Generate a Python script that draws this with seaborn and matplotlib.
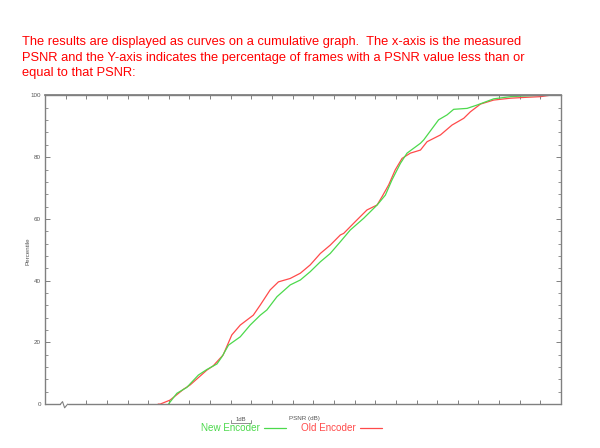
import matplotlib
matplotlib.use("Agg")
import matplotlib.pyplot as plt
import seaborn as sns
import pandas as pd
import numpy as np

# PSNR (dB, relative axis units) and cumulative percentile
old_psnr = [5.48, 5.58, 6.06, 6.71, 7.03, 7.84, 8.15, 8.63, 9.05, 9.46, 10.09, 10.43,
            10.91, 11.31, 11.88, 12.37, 12.85, 13.34, 13.82, 14.31, 14.47, 15.03, 15.60,
            16.09, 16.33, 16.65, 16.97, 17.30, 17.70, 18.19, 18.51, 19.16, 19.72, 20.29,
            20.61, 21.10, 21.74, 22.55, 23.36, 24.01, 24.41]
old_pct = [0, 0, 1.3, 4.8, 6.2, 11.0, 12.4, 15.9, 22.4, 25.6, 28.8, 32.1,
           37.0, 39.6, 40.7, 42.4, 45.1, 48.8, 51.5, 54.8, 55.3, 59.1, 62.9,
           64.5, 67.2, 71.0, 75.9, 79.6, 81.3, 82.3, 85.0, 87.2, 90.4, 92.6,
           94.7, 97.2, 98.5, 99.1, 99.4, 99.6, 100]
new_psnr = [5.98, 6.39, 6.87, 7.43, 7.84, 8.33, 8.57, 8.89, 9.46, 9.94, 10.43, 10.75,
            11.24, 11.88, 12.37, 12.85, 13.34, 13.82, 14.31, 14.79, 15.44, 16.09, 16.49,
            16.81, 17.22, 17.54, 18.19, 18.35, 19.07, 19.48, 19.80, 20.45, 20.94, 21.74,
            22.55, 23.76]
new_pct = [0, 3.5, 5.4, 9.4, 11.2, 13.0, 15.3, 19.1, 21.8, 25.6, 28.8, 30.5,
           34.8, 38.6, 40.2, 42.9, 46.1, 48.8, 52.6, 56.4, 60.2, 64.5, 67.7,
           72.6, 78.0, 81.3, 84.5, 85.6, 92.1, 93.7, 95.5, 95.8, 96.9, 98.9,
           99.6, 100]
series = ["Old Encoder", "New Encoder"]
y_ticks = [0, 20, 40, 60, 80, 100]

df = pd.concat([
    pd.DataFrame({"PSNR": old_psnr, "Percentile": old_pct, "Encoder": series[0]}),
    pd.DataFrame({"PSNR": new_psnr, "Percentile": new_pct, "Encoder": series[1]}),
])

sns.set_theme(style="white")
plt.rcParams['font.family'] = ['Liberation Sans', 'DejaVu Sans']

RED = "#ff4a4a"
GREEN = "#4cd94c"
AX = "#808080"

fig = plt.figure(figsize=(6.0, 4.48), dpi=100)
ax = fig.add_axes([0.075, 0.098, 0.86, 0.689])

sns.lineplot(data=df, x="PSNR", y="Percentile", hue="Encoder", sort=False,
             palette={"Old Encoder": RED, "New Encoder": GREEN},
             linewidth=0.9, legend=False, ax=ax, estimator=None)

ax.set_xlim(0, 25)
ax.set_ylim(0, 100)
for s in ax.spines.values():
    s.set_color(AX)
    s.set_linewidth(1.0)
ax.spines['bottom'].set_visible(False)

# bottom axis line with a break
ax.plot([0, 0.75], [0, 0], color=AX, lw=1.0, clip_on=False)
ax.plot([0.75, 0.85, 0.95, 1.1], [0, 0.8, -1.2, 0], color=AX, lw=0.8, clip_on=False)
ax.plot([1.1, 25], [0, 0], color=AX, lw=1.0, clip_on=False)

ax.set_yticks(y_ticks)
ax.set_yticklabels([str(v) for v in y_ticks])
ax.set_yticks(np.arange(0, 101, 4), minor=True)
ax.set_xticks(np.arange(2, 25, 1))
ax.set_xticklabels([])
ax.tick_params(axis='y', which='major', direction='in', length=3.5, width=0.7,
               color=AX, labelsize=4.5, labelcolor="#555555", pad=3, right=True, left=True)
ax.tick_params(axis='y', which='minor', direction='in', length=2, width=0.6,
               color=AX, right=True, left=True)
ax.tick_params(axis='x', which='major', direction='in', length=3, width=0.7,
               color=AX, bottom=True, top=False)
# top ticks
axt = ax.secondary_xaxis('top')
axt.set_xticks(np.arange(1, 25, 1))
axt.set_xticklabels([])
axt.tick_params(direction='in', length=3, width=0.7, color=AX)
axt.spines['top'].set_color(AX)

ax.set_xlabel("")
ax.set_ylabel("")
fig.text(0.047, 0.44, "Percentile", rotation=90, fontsize=4.5, color="#555555",
         ha='center', va='center')
fig.text(0.507, 0.066, "PSNR (dB)", fontsize=4.5, color="#555555", ha='center', va='center')

# 1 dB bracket
ax.plot([9, 9, 10, 10], [-5.2, -6.2, -6.2, -5.2], color=AX, lw=0.6, clip_on=False)
ax.text(9.5, -4.9, "1dB", fontsize=4.2, color="#555555", ha='center', va='center')

# legend
fig.text(0.335, 0.045, "New Encoder", fontsize=7.1, color=GREEN, ha='left', va='center')
fig.add_artist(plt.Line2D([0.44, 0.477], [0.045, 0.045], color=GREEN, lw=0.9))
fig.text(0.502, 0.045, "Old Encoder", fontsize=7.1, color=RED, ha='left', va='center')
fig.add_artist(plt.Line2D([0.6, 0.637], [0.045, 0.045], color=RED, lw=0.9))

fig.text(0.037, 0.871,
         "The results are displayed as curves on a cumulative graph.  The x-axis is the measured\n"
         "PSNR and the Y-axis indicates the percentage of frames with a PSNR value less than or\n"
         "equal to that PSNR:",
         fontsize=9.3, color="#ff0000", ha='left', va='center', linespacing=1.38)

fig.savefig("out.png", dpi=100)
